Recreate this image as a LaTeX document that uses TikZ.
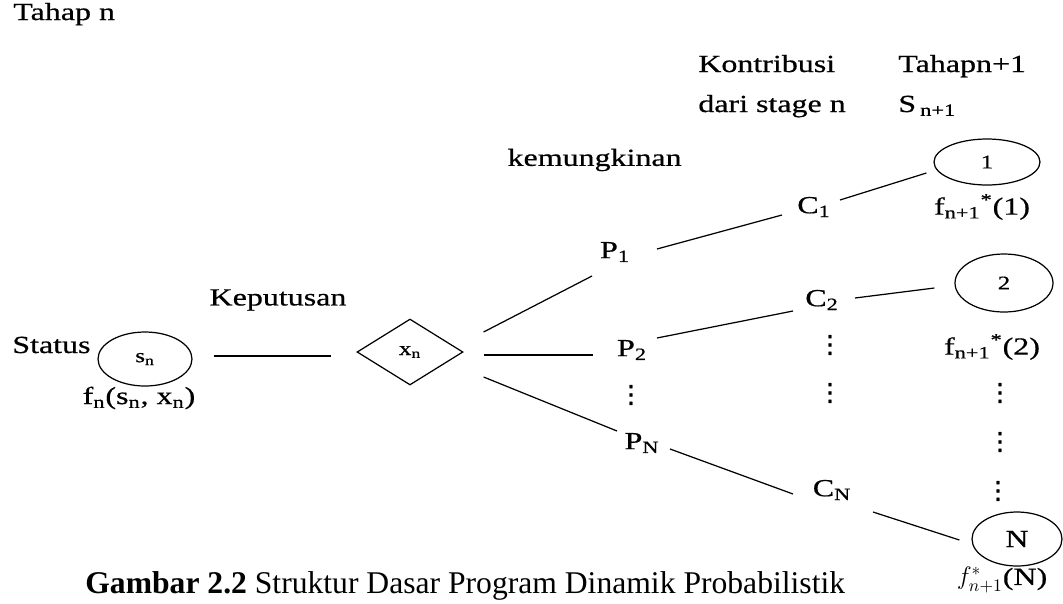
\documentclass[tikz,border=0pt]{standalone}
\usepackage[x11names]{xcolor}
\usepackage{tikz}
\usetikzlibrary{shapes.geometric}
\usepackage{amsmath,amssymb}
\usepackage{fontspec}
\setmainfont{Liberation Serif}
\newfontfamily\diagfont[FakeStretch=1.3,FakeBold=0.6]{Liberation Serif}
\newfontfamily\dotfont[FakeBold=1.5]{DejaVu Sans}
\newcommand{\tridots}{{\dotfont ⋮}}

\begin{document}
\begin{tikzpicture}[x=0.02cm,y=-0.02cm,
                    every node/.style={inner sep=0pt,font=\diagfont\fontsize{14}{16}\selectfont},
                    state/.style={draw,ellipse,line width=0.7pt},
                    choice/.style={draw,diamond,line width=0.7pt,minimum width=2.12cm,minimum height=1.32cm},
                    inlabel/.style={font=\diagfont\fontsize{11}{13}\selectfont},
                    link/.style={line width=0.7pt}]
  \useasboundingbox (0,0) rectangle (1063,603);
  \node[anchor=base west] (tahap) at (13,20) {Tahap n};
  \node[anchor=base west] (kontri) at (698,72) {Kontribusi};
  \node[anchor=base west] (tahapnext) at (898,72) {Tahapn+1};
  \node[anchor=base west] (dari) at (698,112) {dari stage n};
  \node[anchor=base west] (snext) at (898,112) {S\,\textsubscript{n+1}};
  \node[anchor=east] (kemung) at (682,160) {kemungkinan};
  \node (keput) at (278,300) {Keputusan};
  \node[anchor=base west] (status) at (12,353) {Status};

  \node[state,inlabel,minimum width=1.88cm,minimum height=1.08cm] (sn) at (145,359) {s\textsubscript{n}};
  \node (fn) at (139,398) {f\textsubscript{n}(s\textsubscript{n}, x\textsubscript{n})};
  \node[choice,inlabel] (xn) at (410,352) {x\textsubscript{n}};

  \node (p1) at (615,252) {P\textsubscript{1}};
  \node (p2) at (632,350) {P\textsubscript{2}};
  \node (pdots) at (631,395) {\tridots};
  \node (pN) at (642,443) {P\textsubscript{N}};

  \node (c1) at (814,207) {C\textsubscript{1}};
  \node (c2) at (822,300) {C\textsubscript{2}};
  \node (cdotsa) at (830,345) {\tridots};
  \node (cdotsb) at (830,393) {\tridots};
  \node (cN) at (832,490) {C\textsubscript{N}};

  \node[state,inlabel,minimum width=2.12cm,minimum height=0.92cm] (s1) at (987,162) {1};
  \node (f1) at (982,207) {f\textsubscript{n+1}\textsuperscript{*}(1)};
  \node[state,inlabel,minimum width=1.96cm,minimum height=1.16cm] (s2) at (1004,283) {2};
  \node (f2) at (992,347) {f\textsubscript{n+1}\textsuperscript{*}(2)};
  \node (sdotsa) at (1000,393) {\tridots};
  \node (sdotsb) at (1000,442) {\tridots};
  \node (sdotsc) at (998,491) {\tridots};
  \node[state,minimum width=1.8cm,minimum height=1.08cm] (sN) at (1017,539) {N};
  \node (fN) at (1002,580) {$f^{*}_{n+1}$(N)};

  \node[anchor=base west,font=\fontsize{18}{20}\selectfont] (caption) at (85,593)
    {\textbf{Gambar 2.2} Struktur Dasar Program Dinamik Probabilistik};

  \draw[link] ([shift={(21,-3)}]sn.east) -- ([shift={(-25,4)}]xn.west);
  \draw[link] ([shift={(20,-20)}]xn.east) -- ([shift={(-23,24)}]p1.center);
  \draw[link] ([shift={(20,3)}]xn.east) -- ([shift={(-39,5)}]p2.center);
  \draw[link] ([shift={(20,25)}]xn.east) -- ([shift={(-25,-12)}]pN.center);
  \draw[link] ([shift={(42,-3)}]p1.center) -- ([shift={(-32,8)}]c1.center);
  \draw[link] ([shift={(26,-7)}]c1.center) -- ([shift={(-7,11)}]s1.west);
  \draw[link] ([shift={(25,-12)}]p2.center) -- ([shift={(-29,11)}]c2.center);
  \draw[link] ([shift={(33,-2)}]c2.center) -- ([shift={(-20,5)}]s2.west);
  \draw[link] ([shift={(28,6)}]pN.center) -- ([shift={(-39,4)}]cN.center);
  \draw[link] ([shift={(41,22)}]cN.center) -- ([shift={(-12,1)}]sN.west);
\end{tikzpicture}
\end{document}
